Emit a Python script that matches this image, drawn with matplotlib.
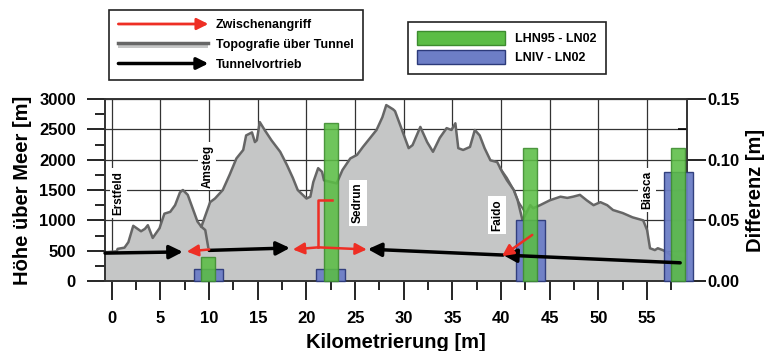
import matplotlib
matplotlib.use("Agg")
import matplotlib.pyplot as plt
import matplotlib.patches as mpatches
from matplotlib.lines import Line2D
from matplotlib.legend_handler import HandlerBase
from matplotlib.ticker import MultipleLocator, FormatStrFormatter

plt.rcParams['font.family'] = ['Liberation Sans', 'DejaVu Sans']
plt.rcParams['font.weight'] = 'bold'

# topography above the tunnel (km, m a.s.l.)
topo_km = [-0.7, 0.5, 0.6, 1.3, 1.7, 2.2, 3.0, 3.4, 3.7, 4.2, 4.9, 5.4, 6.0, 6.5, 7.0, 7.3,
           7.8, 8.3, 8.8, 9.2, 10.1, 10.6, 11.4, 12.1, 12.8, 13.5, 13.8, 14.4, 14.7, 14.9,
           15.2, 15.7, 16.4, 17.3, 18.0, 18.6, 19.1, 20.0, 20.4, 20.7, 21.2, 21.6, 21.8,
           23.1, 23.7, 24.5, 25.2, 25.8, 26.5, 27.2, 27.8, 28.2, 28.9, 29.1, 29.7, 30.5,
           30.9, 31.7, 32.4, 33.0, 33.7, 34.4, 34.9, 35.3, 35.6, 36.1, 36.8, 37.3, 37.8,
           38.3, 38.9, 39.6, 40.1, 40.6, 41.3, 41.7, 42.2, 43.0, 43.3, 44.0, 45.0, 46.1,
           46.8, 47.4, 48.1, 48.8, 49.5, 50.2, 50.9, 51.5, 52.5, 53.5, 54.6, 55.0, 55.3,
           55.8, 56.1, 56.6, 57.0, 57.5, 59.1]
topo_m = [470, 490, 530, 550, 640, 910, 820, 860, 920, 710, 870, 1110, 1140, 1250, 1460, 1500,
          1420, 1200, 980, 895, 1300, 1360, 1500, 1750, 2020, 2160, 2400, 2450, 2290, 2320,
          2620, 2490, 2320, 2130, 1910, 1700, 1500, 1360, 1390, 1630, 1860, 1800, 1660,
          1610, 1830, 2020, 2080, 2210, 2350, 2490, 2700, 2900, 2830, 2800, 2540, 2190,
          2240, 2540, 2290, 2130, 2360, 2520, 2490, 2600, 2190, 2160, 2210, 2490, 2400,
          2190, 1990, 1960, 1800, 1660, 1500, 1330, 1000, 1250, 1200, 1250, 1330, 1390,
          1370, 1390, 1420, 1330, 1250, 1300, 1250, 1170, 1120, 1050, 1000, 840, 540,
          510, 540, 510, 480, 420, 350]

# access branches drawn with the topography
amsteg_km = [9.2, 9.6, 9.9]
amsteg_m = [895, 840, 560]
faido_km = [39.9, 40.6, 41.3, 41.8, 42.4]
faido_m = [1860, 1700, 1500, 1300, 1150]

stations = ['Erstfeld', 'Amsteg', 'Sedrun', 'Faido', 'Biasca']
station_km = [0.7, 9.8, 25.3, 39.6, 55.0]
station_m = [1450, 1895, 1285, 1090, 1500]

# height differences at the stations (m)
bar_km = [9.9, 22.5, 43.0, 58.2]
diff_lhn95 = [0.02, 0.13, 0.11, 0.11]
diff_lniv = [0.01, 0.01, 0.05, 0.09]

# tunnel drives: (start km, start m, end km, end m)
drives = [(-0.7, 460, 7.3, 480),
          (10.0, 505, 18.3, 545),
          (40.2, 428, 26.3, 525),
          (58.4, 300, 40.2, 428)]
# intermediate attacks
attacks = [(10.0, 520, 7.7, 485),
           (21.2, 555, 18.6, 520),
           (21.2, 555, 26.2, 520),
           (43.2, 760, 40.1, 410)]
shaft_km = [22.6, 21.2, 21.2]
shaft_m = [1335, 1335, 555]

RED = '#ee2e24'
GREEN = '#5bbd45'
BLUE = '#6d7ec6'
FILL = '#c5c6c6'
LINE = '#666666'


class ArrowHandler(HandlerBase):
    def create_artists(self, legend, orig_handle, xdescent, ydescent, width, height, fontsize, trans):
        y = height / 2 - ydescent
        a = mpatches.FancyArrowPatch((-xdescent, y), (width - xdescent, y), arrowstyle='-|>',
                                     mutation_scale=17, color=orig_handle.get_color(),
                                     lw=orig_handle.get_linewidth(), shrinkA=0, shrinkB=0,
                                     transform=trans)
        return [a]


class TopoHandler(HandlerBase):
    def create_artists(self, legend, orig_handle, xdescent, ydescent, width, height, fontsize, trans):
        x0, y0 = -xdescent, -ydescent
        r = mpatches.Rectangle((x0, y0), width, height * 0.55, facecolor=FILL, edgecolor='none',
                               transform=trans)
        l = Line2D([x0, x0 + width], [y0 + height * 0.62] * 2, color=LINE, lw=2.5, transform=trans)
        return [r, l]


fig = plt.figure(figsize=(7.82, 3.51), dpi=100)
ax = fig.add_axes([0.1343, 0.1994, 0.7442, 0.5185])
ax2 = ax.twinx()

ax.fill_between(topo_km, topo_m, 0, color=FILL, lw=0, zorder=1)
ax.plot(topo_km, topo_m, color=LINE, lw=1.8, zorder=2)
ax.plot(amsteg_km, amsteg_m, color=LINE, lw=1.8, zorder=2)
ax.plot(faido_km, faido_m, color=LINE, lw=1.5, zorder=2)

for name, x, y in zip(stations, station_km, station_m):
    ax.text(x, y, name, rotation=90, ha='center', va='center', fontsize=8.5, zorder=3,
            bbox=dict(facecolor='white', edgecolor='none', pad=2))

ax.set_xlim(-0.7, 59.1)
ax.set_ylim(0, 3000)
ax.xaxis.set_major_locator(MultipleLocator(5))
ax.xaxis.set_minor_locator(MultipleLocator(2.5))
ax.yaxis.set_major_locator(MultipleLocator(500))
ax.yaxis.set_minor_locator(MultipleLocator(250))
ax.set_xticks(range(0, 60, 5))
ax.grid(True, which='major', color='#333333', lw=0.9)
ax.set_axisbelow(True)
ax.tick_params(axis='x', which='major', length=13.5, width=1.2, pad=8, labelsize=12)
ax.tick_params(axis='x', which='minor', length=6.5, width=1.2)
ax.tick_params(axis='y', which='major', length=13, width=1.2, pad=8, labelsize=12)
ax.tick_params(axis='y', which='minor', length=7, width=1.2)
ax.set_xlabel('Kilometrierung [m]', fontsize=14.5, fontweight='bold', labelpad=5)
ax.set_ylabel('Höhe über Meer [m]', fontsize=14.5, fontweight='bold', labelpad=5)
for s in ax.spines.values():
    s.set_color('#333333')
    s.set_linewidth(1.2)

ax2.bar(bar_km, diff_lniv, width=3.0, color=BLUE, edgecolor='#2c3a7a', lw=1, alpha=0.95,
        zorder=3, clip_on=False)
ax2.bar(bar_km, diff_lhn95, width=1.4, color=GREEN, edgecolor='#3d8c2f', lw=1, alpha=0.88,
        zorder=4, clip_on=False)
ax2.set_ylim(0, 0.15)
ax2.yaxis.set_major_locator(MultipleLocator(0.05))
ax2.yaxis.set_minor_locator(MultipleLocator(0.025))
ax2.yaxis.set_major_formatter(FormatStrFormatter('%.2f'))
ax2.tick_params(axis='y', which='major', length=13.5, width=1.2, pad=1, labelsize=12)
ax2.tick_params(axis='y', which='minor', direction='in', length=6.5, width=1.2)
ax2.set_ylabel('Differenz [m]', fontsize=14.5, fontweight='bold', labelpad=5)
for s in ax2.spines.values():
    s.set_color('#333333')
    s.set_linewidth(1.2)

# arrows on top of the bars, in the elevation coordinates
for x0, y0, x1, y1 in drives:
    ax2.annotate('', xy=(x1, y1), xytext=(x0, y0), xycoords=ax.transData, textcoords=ax.transData,
                 arrowprops=dict(arrowstyle='-|>', color='black', lw=2.5, mutation_scale=20,
                                 shrinkA=0, shrinkB=0), zorder=6)
ax2.add_line(Line2D(shaft_km, shaft_m, color=RED, lw=1.8, transform=ax.transData, zorder=6))
for x0, y0, x1, y1 in attacks:
    ax2.annotate('', xy=(x1, y1), xytext=(x0, y0), xycoords=ax.transData, textcoords=ax.transData,
                 arrowprops=dict(arrowstyle='-|>', color=RED, lw=1.8, mutation_scale=17,
                                 shrinkA=0, shrinkB=0), zorder=7)
ax2.set_ylim(0, 0.15)

leg_prop = {'weight': 'bold', 'size': 9}
red_proxy = Line2D([], [], color=RED, lw=2)
black_proxy = Line2D([], [], color='black', lw=2.5)
topo_proxy = mpatches.Patch(facecolor=FILL)
leg1 = fig.legend([red_proxy, topo_proxy, black_proxy],
                  ['Zwischenangriff', 'Topografie über Tunnel', 'Tunnelvortrieb'],
                  handler_map={Line2D: ArrowHandler(), mpatches.Patch: TopoHandler()},
                  loc='upper left', bbox_to_anchor=(109 / 782, 1 - 10 / 351), prop=leg_prop,
                  frameon=True, fancybox=False, edgecolor='#222222', framealpha=1,
                  handlelength=7.2, handletextpad=0.6, labelspacing=0.62, borderpad=0.75,
                  borderaxespad=0)
leg1.get_frame().set_linewidth(1.2)

h2 = [mpatches.Patch(facecolor=GREEN, edgecolor='#3d8c2f'),
      mpatches.Patch(facecolor=BLUE, edgecolor='#2c3a7a')]
leg2 = fig.legend(h2, ['LHN95 - LN02', 'LNIV - LN02'], loc='upper left',
                  bbox_to_anchor=(408 / 782, 1 - 22 / 351), prop=leg_prop, frameon=True,
                  fancybox=False, edgecolor='#222222', framealpha=1, handlelength=7.0,
                  handleheight=1.3, handletextpad=0.8, labelspacing=0.4, borderpad=0.75,
                  borderaxespad=0)
leg2.get_frame().set_linewidth(1.2)

fig.savefig('out.png', dpi=100)
